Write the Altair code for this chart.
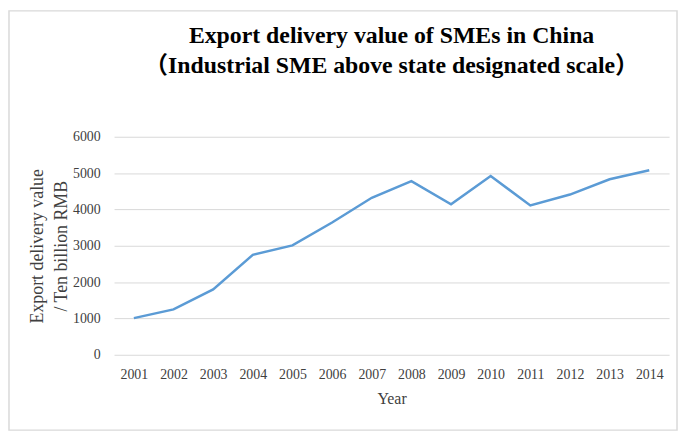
import altair as alt
import pandas as pd

years = ["2001", "2002", "2003", "2004", "2005", "2006", "2007",
         "2008", "2009", "2010", "2011", "2012", "2013", "2014"]
values = [1010, 1250, 1800, 2750, 3010, 3640, 4320,
          4780, 4140, 4920, 4110, 4410, 4830, 5080]

title_lines = ["Export delivery value of SMEs in China",
               "（Industrial SME above state designated scale）"]
y_title = ["Export delivery value", "/ Ten billion RMB"]
x_title = "Year"

df = pd.DataFrame({"year": years, "value": values})

FONT = "Liberation Serif, Times New Roman, Noto Sans CJK SC, serif"

line = alt.Chart(df).mark_line(color="#5b9bd5", strokeWidth=2.5).encode(
    x=alt.X("year:O", sort=years, title=x_title,
            scale=alt.Scale(type="point", padding=0.5),
            axis=alt.Axis(labelAngle=0, ticks=False, domain=False, grid=False,
                          labelPadding=13, titlePadding=9, titleFontSize=16)),
    y=alt.Y("value:Q", title=y_title,
            scale=alt.Scale(domain=[0, 6000]),
            axis=alt.Axis(values=[0, 1000, 2000, 3000, 4000, 5000, 6000],
                          format="d",
                          ticks=False, domain=False, labelPadding=14,
                          titlePadding=2, titleLineHeight=24, titleFontSize=18)),
)

border = alt.Chart(pd.DataFrame({"a": [0]})).mark_rect(
    fill=None, stroke="#d9d9d9", strokeWidth=1.5
).encode(
    x=alt.value(-106), x2=alt.value(568),
    y=alt.value(-127), y2=alt.value(296),
)

chart = alt.layer(border, line).properties(
    width=560, height=220,
    autosize=alt.AutoSizeParams(type="none"),
    padding={"left": 107, "top": 128, "right": 9, "bottom": 77},
    title=alt.TitleParams(title_lines, anchor="middle", frame="group",
                          font=FONT, fontSize=24, fontWeight="bold",
                          color="#000000", lineHeight=30, offset=0, dy=68),
).configure_view(stroke=None).configure_axis(
    labelFont=FONT, titleFont=FONT, labelFontSize=14,
    labelColor="#404040", titleColor="#404040", titleFontWeight="normal",
    gridColor="#d9d9d9", gridWidth=1,
)

chart.save("out.html", embed_options={"renderer": "svg", "actions": False})
